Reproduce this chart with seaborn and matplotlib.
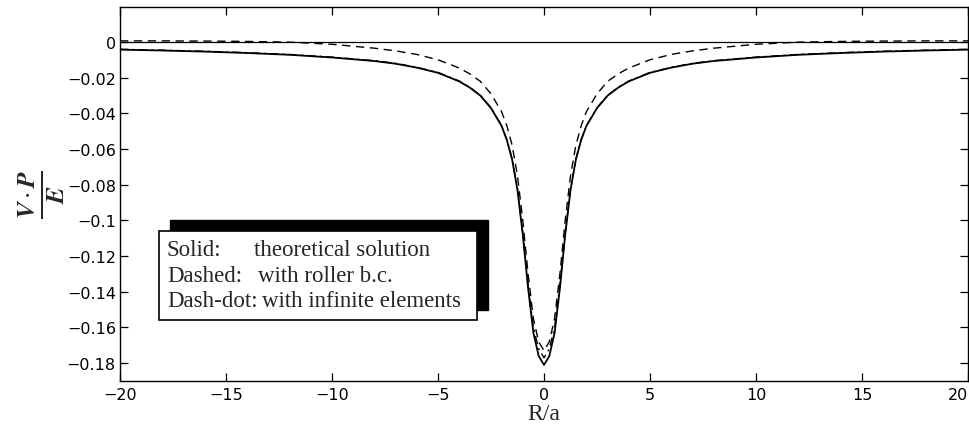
import numpy as np
import pandas as pd
import matplotlib
matplotlib.use("Agg")
import matplotlib.pyplot as plt
from matplotlib.patches import Rectangle
import seaborn as sns

# ---------------- data ----------------
r_half = [0.0, 0.25, 0.5, 0.75, 1.0, 1.25, 1.5, 1.75, 2.0, 2.5, 3.0, 3.5, 4.0,
          5.0, 6.0, 7.0, 8.0, 10.0, 12.0, 14.0, 16.0, 18.0, 20.0]
theoretical = [-0.181, -0.176, -0.163, -0.138, -0.108, -0.083, -0.066, -0.055,
               -0.047, -0.037, -0.030, -0.0255, -0.022, -0.0172, -0.0143,
               -0.0121, -0.0106, -0.0086, -0.0071, -0.0061, -0.0053, -0.0047,
               -0.0042]
roller_bc = [-0.173, -0.168, -0.155, -0.130, -0.100, -0.075, -0.058, -0.047,
             -0.039, -0.029, -0.022, -0.0178, -0.0145, -0.0099, -0.0069,
             -0.0049, -0.0034, -0.0012, 0.0000, 0.0004, 0.0006, 0.0007, 0.0007]
infinite_el = [-0.177, -0.172, -0.160, -0.136, -0.107, -0.0825, -0.0657,
               -0.0547, -0.0468, -0.0368, -0.0298, -0.0253, -0.0218, -0.0170,
               -0.0141, -0.0119, -0.0104, -0.0084, -0.0069, -0.0059, -0.0051,
               -0.0045, -0.0040]

x_ticks = [-20, -15, -10, -5, 0, 5, 10, 15, 20]
x_ticklabels = ["\u221220", "\u221215", "\u221210", "\u22125", "0", "5", "10", "15", "20"]
y_ticks = [-0.18, -0.16, -0.14, -0.12, -0.1, -0.08, -0.06, -0.04, -0.02, 0]
y_ticklabels = ["\u22120.18", "\u22120.16", "\u22120.14", "\u22120.12", "\u22120.1",
                "\u22120.08", "\u22120.06", "\u22120.04", "\u22120.02", "0"]

legend_labels = ["Solid:", "Dashed:", "Dash-dot:"]
legend_descs = ["theoretical solution", "with roller b.c.", "with infinite elements"]

# symmetric profiles (mirror the half-profile)
def mirror(xs, ys):
    xs = np.asarray(xs); ys = np.asarray(ys)
    return np.concatenate([-xs[:0:-1], xs]), np.concatenate([ys[:0:-1], ys])

x_s, y_s = mirror(r_half, theoretical)
x_d, y_d = mirror(r_half, roller_bc)
x_i, y_i = mirror(r_half, infinite_el)

df_s = pd.DataFrame({"x": x_s, "y": y_s})
df_d = pd.DataFrame({"x": x_d, "y": y_d})
df_i = pd.DataFrame({"x": x_i, "y": y_i})

# ---------------- figure ----------------
sns.set_theme(style="ticks")
plt.rcParams["font.family"] = ["DejaVu Sans"]
plt.rcParams["mathtext.fontset"] = "stix"

fig = plt.figure(figsize=(9.70, 4.35), dpi=100)
W, H = 970.0, 435.0
ax = fig.add_axes([120 / W, 1 - 382 / H, 848 / W, 374 / H])

ax.axhline(0, color="black", lw=0.9, zorder=1)
sns.lineplot(data=df_s, x="x", y="y", ax=ax, color="black", lw=1.3,
             linestyle="-", sort=False, estimator=None)
sns.lineplot(data=df_d, x="x", y="y", ax=ax, color="black", lw=1.0,
             sort=False, estimator=None)
ax.lines[-1].set_dashes([6, 4])
sns.lineplot(data=df_i, x="x", y="y", ax=ax, color="black", lw=1.0,
             sort=False, estimator=None)
ax.lines[-1].set_dashes([6, 3, 1.5, 3])

ax.set_xlim(-20, 20)
ax.set_ylim(-0.19, 0.0197)
ax.set_xticks(x_ticks)
ax.set_xticklabels(x_ticklabels)
ax.set_yticks(y_ticks)
ax.set_yticklabels(y_ticklabels)
ax.tick_params(direction="in", length=6, width=0.9, top=True, right=True,
               labelsize=11.5, colors="black")
ax.tick_params(axis="y", pad=3)
ax.tick_params(axis="x", pad=4)
ax.get_xticklabels()[-1].set_horizontalalignment("right")
for sp in ax.spines.values():
    sp.set_visible(True)
    sp.set_linewidth(1.0)
    sp.set_color("black")

ax.set_xlabel("R/a", family="Liberation Serif", fontsize=17, labelpad=1)
ax.set_ylabel(r"$\frac{\mathbfit{V}\cdot\mathbfit{P}}{\mathbfit{E}}$",
              fontsize=26, labelpad=0)

# ---------------- legend box with shadow ----------------
def fx(px):
    return px / W

def fy(py):
    return 1 - py / H

shadow = Rectangle((fx(170), fy(311)), fx(488) - fx(170), fy(221) - fy(311),
                   transform=fig.transFigure, facecolor="black",
                   edgecolor="black", zorder=5)
box = Rectangle((fx(159), fy(321)), fx(477) - fx(159), fy(232) - fy(321),
                transform=fig.transFigure, facecolor="white",
                edgecolor="black", lw=1.2, zorder=6)
fig.patches.extend([shadow, box])

label_x = 167
desc_x = [254, 258, 262]
baselines = [256, 282, 307]
for lab, desc, dx, base in zip(legend_labels, legend_descs, desc_x, baselines):
    fig.text(fx(label_x), fy(base), lab, family="Liberation Serif",
             fontsize=16.5, va="baseline", ha="left", zorder=7)
    fig.text(fx(dx), fy(base), desc, family="Liberation Serif",
             fontsize=16.5, va="baseline", ha="left", zorder=7)

fig.savefig("out.png", dpi=100)
